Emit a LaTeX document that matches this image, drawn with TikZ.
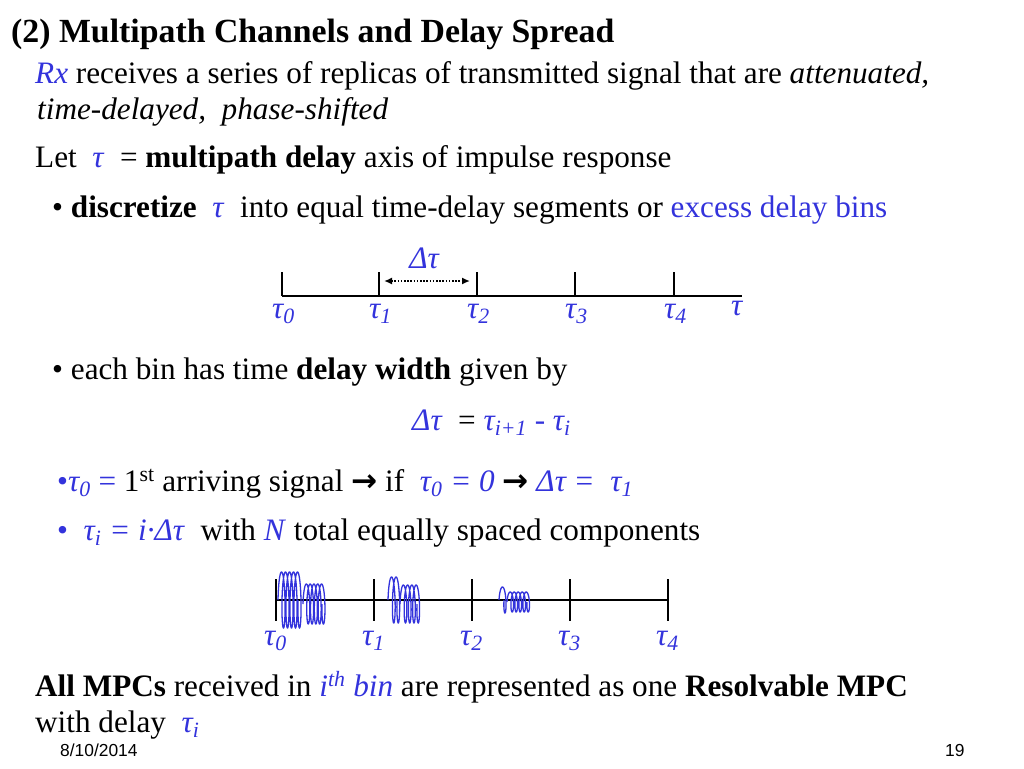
\documentclass[tikz,border=0pt]{standalone}
\usepackage{fontspec}
\setmainfont{Liberation Serif}
\setsansfont{Liberation Sans}
\newfontfamily\arrfont{DejaVu Sans}
\usetikzlibrary{arrows.meta}
\definecolor{mpblue}{RGB}{51,51,220}
\tikzset{
  txt/.style={anchor=base west, inner sep=0pt, font=\fontsize{31.2}{36}\selectfont},
  ttl/.style={anchor=base west, inner sep=0pt, font=\fontsize{33.8}{40}\selectfont\bfseries},
  lbl/.style={anchor=base west, inner sep=0pt, text=mpblue, font=\fontsize{31.2}{36}\selectfont\itshape},
  foot/.style={anchor=base west, inner sep=0pt, font=\fontsize{17.4}{20}\selectfont\sffamily},
  axisline/.style={line width=2.4pt, black},
  dotarr/.style={{Latex[length=8pt,width=7pt]}-{Latex[length=8pt,width=7pt]}, dash pattern=on 1.6pt off 1.6pt, line width=1.6pt},
  wave/.style={mpblue, line width=1.3pt},
}
\newcommand{\bl}[1]{\textcolor{mpblue}{#1}}
\newcommand{\tk}[1]{\textit{τ\textsubscript{#1}}}
\newcommand{\rar}{{\arrfont\bfseries →}}
% wave packet: start x, length, cycles, amplitude, centre y, loop size
\newcommand{\mpcwave}[6]{%
  \draw[wave] plot[variable=\t, domain=0:360*#3, samples=60*#3, smooth]
    ({#1 + #6 + (#2/(360*#3))*\t - #6*cos(\t)}, {#5 - #4*sin(\t)});}

\begin{document}
\begin{tikzpicture}[x=1pt, y=-1pt]
\fill[white] (0,0) rectangle (1024,768);
\useasboundingbox (0,0) rectangle (1024,768);
% title and text lines
\node[ttl] (title) at (11,42) {(2) Multipath Channels and Delay Spread};
\node[txt] (rx) at (35,83) {\bl{\textit{Rx}} receives a series of replicas of transmitted signal that are \textit{attenuated,}};
\node[txt] (rx2) at (37,119) {\textit{time-delayed,\ \ phase-shifted}};
\node[txt] (let) at (35,167) {Let \ \bl{\textit{τ}} \ = \textbf{multipath delay} axis of impulse response};
\node[txt] (disc) at (52,217) {• \textbf{discretize} \ \bl{\textit{τ}} \ into equal time-delay segments or \bl{excess delay bins}};
% axis 1
\draw[axisline] (282,296) coordinate (a0) -- (742,296) coordinate (aend);
\foreach \x [count=\i from 0] in {282,379,477,575,674} {
  \draw[axisline] (\x,272) coordinate (u\i) -- (\x,296);
  \node[lbl] (ta\i) at (\x-10,318) {τ\textsubscript{\i}};
}
\coordinate (d1) at (384,281);
\coordinate (d2) at (470,281);
\draw[dotarr] (d1) -- (d2);
\node[lbl, anchor=base] (dt) at (424,268) {Δτ};
\node[lbl] (tau) at (731,315) {τ};
% width
\node[txt] (bin) at (52,379) {• each bin has time \textbf{delay width} given by};
\node[txt] (form) at (412,430) {\bl{\textit{Δτ}} \ = \bl{\textit{τ\textsubscript{i+1} - τ\textsubscript{i}}}};
\node[txt] (first) at (57,491) {\bl{•\tk{0} =} 1\textsuperscript{st} arriving signal \rar{} if \ \bl{\textit{τ\textsubscript{0} = 0}} \rar{} \bl{\textit{Δτ = \ τ\textsubscript{1}}}};
\node[txt] (eq) at (57,540) {\bl{• \ \textit{τ\textsubscript{i} = i·Δτ}} \ with \bl{\textit{N}} total equally spaced components};
% axis 2 with received MPCs
\draw[axisline] (276,600) coordinate (b0) -- (668,600) coordinate (bend);
\foreach \x [count=\i from 0] in {276,374,472,570,668} {
  \draw[axisline] (\x,579) coordinate (v\i) -- (\x,621);
  \node[lbl] (tb\i) at (\x-12,645) {τ\textsubscript{\i}};
}
\mpcwave{278}{20}{5}{28}{600}{2.5}
\mpcwave{303}{19}{5}{20}{604}{2.4}
\mpcwave{388}{9}{2}{23}{600}{2.4}
\mpcwave{400}{17}{4}{19}{604}{2.3}
\mpcwave{499}{5}{1}{13}{600}{2.2}
\mpcwave{507}{20}{5}{10}{602}{2.2}
% conclusion
\node[txt] (mpc) at (35,696) {\textbf{All MPCs} received in \bl{\textit{i\textsuperscript{th} bin}} are represented as one \textbf{Resolvable MPC}};
\node[txt] (wd) at (35,732) {with delay \ \bl{\tk{i}}};
% footer
\node[foot] (date) at (60,756) {8/10/2014};
\node[foot] (page) at (945,756) {19};
\end{tikzpicture}
\end{document}
